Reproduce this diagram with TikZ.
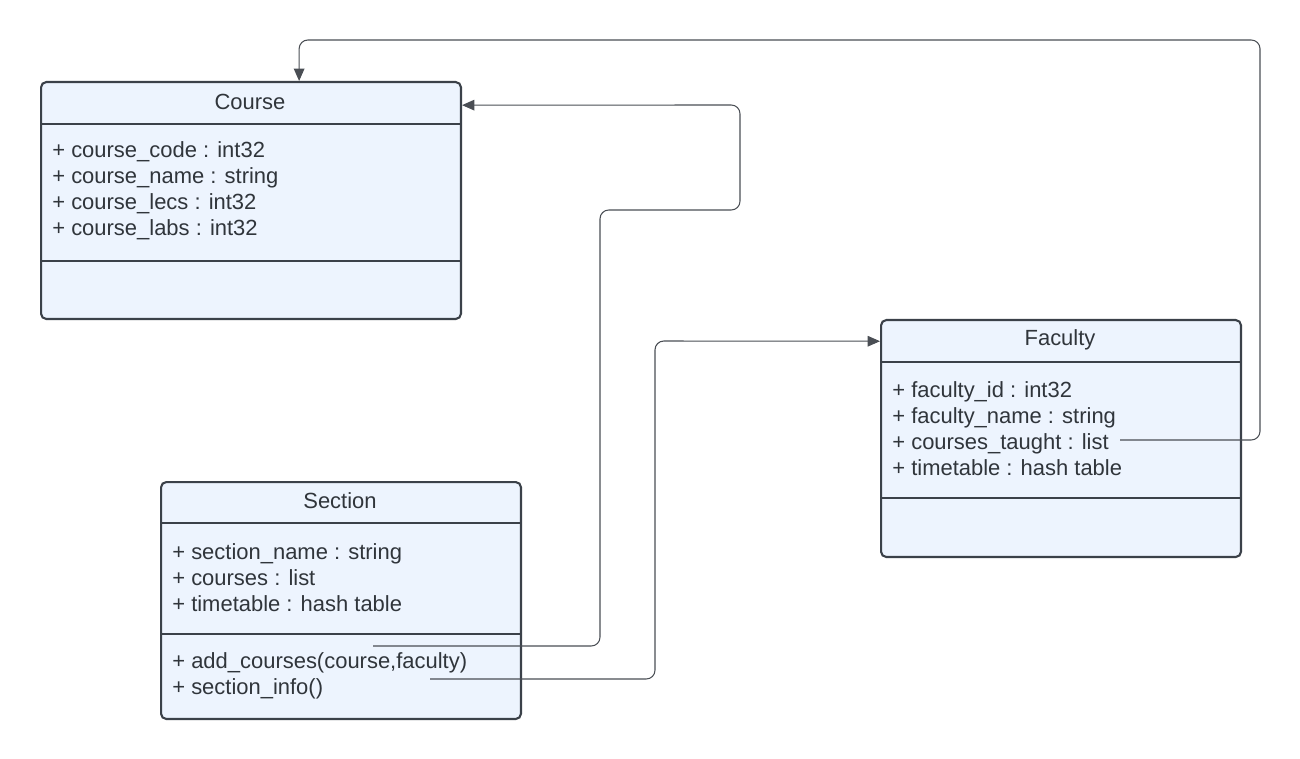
\documentclass[tikz,border=0pt]{standalone}
\usepackage{fontspec}
\setsansfont{Liberation Sans}
\usetikzlibrary{arrows.meta, calc, positioning}

\definecolor{boxfill}{HTML}{EDF4FE}
\definecolor{boxline}{HTML}{3B4149}
\definecolor{linkline}{HTML}{4A4E54}
\definecolor{textcol}{HTML}{30353B}

\tikzset{
	classbox/.style={draw=boxline, fill=boxfill, line width=1.2pt, rounded corners=3pt, anchor=north west, minimum height=4.74cm},
	divider/.style={draw=boxline, line width=1.2pt},
	title/.style={font=\sffamily\fontsize{12.5}{14.8}\selectfont, text=textcol, inner sep=0pt},
	members/.style={font=\sffamily\fontsize{12.5}{14.8}\selectfont, text=textcol, align=left, anchor=west, inner sep=0pt},
	link/.style={draw=linkline, line width=0.6pt, rounded corners=5pt},
	tip/.style={-{Triangle[length=7pt, width=6pt]}}
}

\begin{document}
\begin{tikzpicture}[x=0.02cm, y=-0.02cm]
	\useasboundingbox (0,0) rectangle (1300,759);
	% class boxes
	\node[classbox, minimum width=8.4cm] (course) at (40,81) {};
	\node[classbox, minimum width=7.2cm] (faculty) at (880,319) {};
	\node[classbox, minimum width=7.2cm] (section) at (160,481) {};
	\draw[divider] (40,124) -- (460,124);
	\draw[divider] (40,261) -- (460,261);
	\draw[divider] (880,362) -- (1240,362);
	\draw[divider] (880,498) -- (1240,498);
	\draw[divider] (160,523) -- (520,523);
	\draw[divider] (160,634) -- (520,634);
	% texts
	\node[title] (coursename) at (250,102) {Course};
	\node[members] (courseattr) at (52,191) {+ course\_code : int32\\+ course\_name : string\\+ course\_lecs : int32\\+ course\_labs : int32};
	\node[title] (facultyname) at (1060,340) {Faculty};
	\node[members] (facultyattr) at (892,429) {+ faculty\_id : int32\\+ faculty\_name : string\\+ courses\_taught : list\\+ timetable : hash table};
	\node[title] (sectionname) at (340,501) {Section};
	\node[members] (sectionattr) at (172,578) {+ section\_name : string\\+ courses : list\\+ timetable : hash table};
	\node[members] (sectionops) at (172,676) {+ add\_courses(course,faculty)\\+ section\_info()};
	% links
	\coordinate (taught) at (1120,440);
	\coordinate (addc) at (373,646);
	\coordinate (addf) at (430,679);
	\draw[link, tip] (taught) -| (1260,40) -| ($(course.north west)!0.614!(course.north east)$);
	\draw[link, tip] (addc) -| (600,210) -| (740,105) -- ($(course.north east)!0.101!(course.south east)$);
	\draw[link, tip] (addf) -| (655,341) -- ($(faculty.north west)!0.093!(faculty.south west)$);
\end{tikzpicture}
\end{document}
